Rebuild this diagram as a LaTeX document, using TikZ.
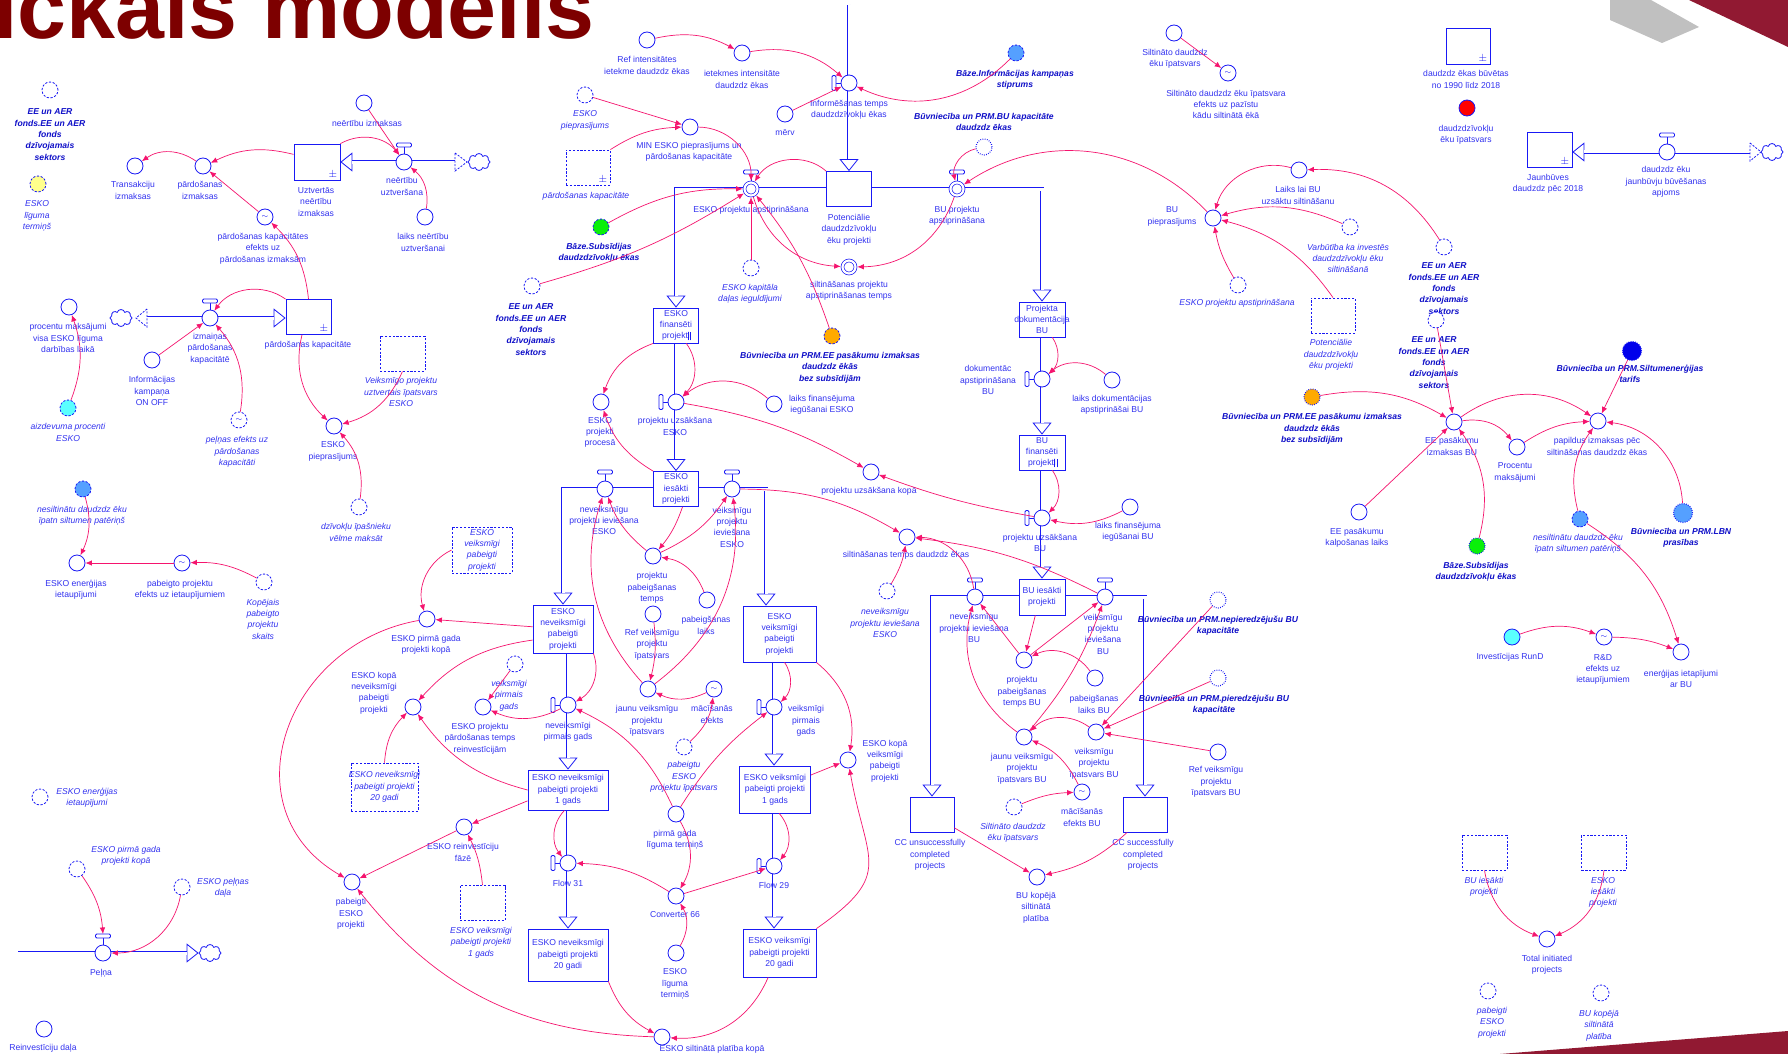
\documentclass[tikz,border=0pt]{standalone}
\usepackage{fontspec}
\setmainfont{Liberation Sans}
\usetikzlibrary{arrows.meta,shapes.symbols,calc}
\pgfdeclarelayer{bg}
\pgfdeclarelayer{pipes}
\pgfsetlayers{bg,pipes,main}

\definecolor{nodeblue}{RGB}{25,25,245}
\definecolor{txtblue}{RGB}{50,50,240}
\definecolor{boldblue}{RGB}{15,15,200}
\definecolor{pinkc}{RGB}{245,20,110}
\definecolor{titlered}{RGB}{125,0,0}
\definecolor{bandred}{RGB}{145,25,50}
\definecolor{bandgrey}{RGB}{192,192,192}
\definecolor{fillyellow}{RGB}{255,255,140}
\definecolor{fillgreen}{RGB}{10,240,10}
\definecolor{fillorange}{RGB}{255,170,0}
\definecolor{filllblue}{RGB}{85,160,255}
\definecolor{fillcyan}{RGB}{90,255,255}
\definecolor{fillred}{RGB}{255,0,0}
\definecolor{filldblue}{RGB}{0,0,235}

% valve handles
\newcommand\hTop[1]{%
  \draw[vhandle] ($(#1.center)+(0,8)$) -- ($(#1.center)+(0,15)$);
  \draw[vhandle,fill=white,rounded corners=1.2pt] ($(#1.center)+(-7.5,15)$) rectangle ($(#1.center)+(7.5,19)$);
  \coordinate (#1-h) at ($(#1.center)+(0,19)$);}
\newcommand\hLeft[1]{%
  \draw[vhandle] ($(#1.center)+(-8,0)$) -- ($(#1.center)+(-13,0)$);
  \draw[vhandle,fill=white,rounded corners=1.2pt] ($(#1.center)+(-17,-7.5)$) rectangle ($(#1.center)+(-13,7.5)$);}
% double-line flow pipe with an open arrow head at its end
\newcommand\FlowPipe[1]{\draw[pipecore] #1; \draw[pipedbl] #1;}

\begin{document}
\begin{tikzpicture}[x=1pt,y=1pt,
  aux/.style={circle, draw=nodeblue, line width=0.8pt, fill=white, minimum size=16pt, inner sep=0pt},
  ghost/.style={aux, dash pattern=on 2.2pt off 1.6pt},
  ghostdot/.style={aux, line width=1.1pt, dash pattern=on 0.8pt off 1.4pt},
  sine/.style={aux, font=\fontsize{8}{8}\selectfont, text=nodeblue},
  valve/.style={aux},
  dvalve/.style={circle, draw=nodeblue, line width=0.7pt, double=white, double distance=2.2pt, fill=white, minimum size=13pt, inner sep=0pt, outer sep=1.8pt},
  pmk/.style={anchor=south east, inner sep=0pt, text=nodeblue, font=\fontsize{11}{11}\selectfont, xshift=-3pt, yshift=2pt},
  cboxe/.style={rectangle, draw=nodeblue, line width=0.8pt, fill=white, inner sep=0pt, minimum width=45pt, minimum height=35pt},
  stock/.style={cboxe, label={[pmk]south east:$\pm$}},
  ghostbox/.style={cboxe, dash pattern=on 2.2pt off 1.6pt},
  cloudn/.style={cloud, cloud puffs=8, aspect=1.25, draw=nodeblue, line width=0.8pt, fill=white, minimum width=22pt, minimum height=17pt, inner sep=0pt},
  lbl/.style={font=\fontsize{8.6}{11.3}\selectfont, text=txtblue, align=center, inner sep=0pt},
  ilbl/.style={lbl, font=\fontsize{8.6}{11.3}\selectfont\itshape},
  blbl/.style={lbl, font=\fontsize{8.6}{11.3}\selectfont\bfseries\itshape, text=boldblue},
  conn/.style={draw=pinkc, line width=0.7pt, -{Latex[length=6.5pt,width=5.5pt]}},
  pipecore/.style={draw=nodeblue, line width=0.8pt, -{Triangle[fill=white, length=12pt, width=19pt, line width=0.8pt]}},
  pipedbl/.style={draw=nodeblue, line width=0.8pt, double=white, double distance=3pt, shorten >=12pt},
  vhandle/.style={draw=nodeblue, line width=0.8pt},
  chev/.style={draw=nodeblue, line width=0.8pt, dash pattern=on 2pt off 1.5pt, fill=white}
]
\useasboundingbox (0,0) rectangle (1788,-1054);
\begin{pgfonlayer}{bg}
  \fill[white] (0,0) rectangle (1788,-1054);
\end{pgfonlayer}
\clip (0,0) rectangle (1788,-1054);

% ---------- title and corner bands
\node[anchor=base west, font=\fontsize{88}{88}\selectfont\bfseries, text=titlered, inner sep=0pt] (ttl) at (-7,-39) {ickais modelis};
\fill[bandgrey] (1610,0) -- (1651,0) -- (1699,-27) -- (1662,-43) -- (1610,-20) -- cycle;
\fill[bandred] (1689,0) -- (1788,0) -- (1788,-47) -- cycle;
\fill[bandred] (1500,-1054) -- (1788,-1031) -- (1788,-1054) -- cycle;

% ---------- upper left: sales costs
\node[ghost] (eeA) at (50,-90) {};
\node[blbl] (eeAl) at (50,-134.5) {EE un AER\\fonds.EE un AER\\fonds\\dzīvojamais\\sektors};
\node[ghost, fill=fillyellow] (ligY) at (38,-184) {};
\node[ilbl] (ligYl) at (37,-216) {ESKO\\līguma\\termiņš};
\node[aux] (trans) at (135,-166) {};
\node[lbl] (transl) at (133,-190.5) {Transakciju\\izmaksas};
\node[aux] (pizm) at (203,-166) {};
\node[lbl] (pizml) at (200,-190.5) {pārdošanas\\izmaksas};
\node[stock, minimum width=46pt, minimum height=36pt] (uztv) at (317,-162) {};
\node[lbl] (uztvl) at (316,-202) {Uztvertās\\neērtību\\izmaksas};
\node[valve] (nuzt) at (404,-162) {};
\node[lbl] (nuztl) at (402,-186.5) {neērtību\\uztveršana};
\node[cloudn] (cl1) at (479,-162) {};
\coordinate (ch1) at (455,-162);
\node[aux] (nizm) at (364,-103) {};
\node[lbl] (nizml) at (367,-123) {neērtību izmaksas};
\node[aux] (lnu) at (425,-217) {};
\node[lbl] (lnul) at (423,-242.5) {laiks neērtību\\uztveršanai};
\node[sine] (pke) at (265,-217) {$\sim$};
\node[lbl] (pkel) at (263,-248.5) {pārdošanas kapacitātes\\efekts uz\\pārdošanas izmaksām};

\node[ghost] (epg) at (585,-95) {};
\node[ilbl] (epgl) at (585,-120.5) {ESKO\\pieprasījums};
\node[ghostbox, minimum width=44pt, label={[pmk]south east:$\pm$}] (pkg) at (588,-167.5) {};
\node[ilbl] (pkgl) at (586,-196) {pārdošanas kapacitāte};
\node[ghost, fill=fillgreen] (bzs) at (601,-227) {};
\node[blbl] (bzsl) at (599,-252.5) {Bāze.Subsīdijas\\daudzdzīvokļu ēkas};

% ---------- information campaign and approval
\node[aux] (refi) at (647,-40) {};
\node[lbl] (refil) at (647,-65.5) {Ref intensitātes\\ietekme daudzdz ēkas};
\node[aux] (ieti) at (742,-53) {};
\node[lbl] (ietil) at (742,-79.5) {ietekmes intensitāte\\daudzdz ēkas};
\node[valve] (infv) at (849,-83) {};
\node[lbl] (infvl) at (849,-109.5) {Informēšanas temps\\daudzdzīvokļu ēkas};
\coordinate (ptop) at (849,-5);
\node[aux] (merv) at (785,-114) {};
\node[lbl] (mervl) at (785,-133) {mērv};
\node[ghost, fill=filllblue] (bzi) at (1016,-53) {};
\node[blbl] (bzil) at (1015,-79.5) {Bāze.Informācijas kampaņas\\stiprums};
\node[aux] (mine) at (690,-127) {};
\node[lbl] (minel) at (689,-152) {MIN ESKO pieprasījums un\\pārdošanas kapacitāte};
\node[cboxe] (potenc) at (849,-189) {};
\node[lbl] (potencl) at (849,-229.5) {Potenciālie\\daudzdzīvokļu\\ēku projekti};
\node[dvalve] (eap) at (751,-189) {};
\node[lbl] (eapl) at (751,-210) {ESKO projektu apstiprināšana};
\node[dvalve] (bap) at (957,-189) {};
\node[lbl] (bapl) at (957,-215.5) {BU projektu\\apstiprināšana};
\node[ghostdot] (bkg) at (984,-147) {};
\node[blbl] (bkgl) at (984,-122) {Būvniecība un PRM.BU kapacitāte\\daudzdz ēkas};
\node[dvalve] (sapt) at (849,-267) {};
\node[lbl] (saptl) at (849,-291) {siltināšanas projektu\\apstiprināšanas temps};
\node[ghost] (ekg) at (751,-268) {};
\node[ilbl] (ekgl) at (750,-293.5) {ESKO kapitāla\\daļas ieguldījumi};
\node[ghost, fill=fillorange] (or1) at (832,-336) {};
\node[blbl] (or1l) at (830,-367.5) {Būvniecība un PRM.EE pasākumu izmaksas\\daudzdz ēkās\\bez subsīdijām};
\node[ghost] (eeC) at (532,-286) {};
\node[blbl] (eeCl) at (531,-329.5) {EE un AER\\fonds.EE un AER\\fonds\\dzīvojamais\\sektors};

% ---------- upper right
\node[aux] (sdi) at (1174,-33) {};
\node[lbl] (sdil) at (1175,-58.5) {Siltināto daudzdz\\ēku īpatsvars};
\node[sine] (sde) at (1228,-73) {$\sim$};
\node[lbl] (sdel) at (1226,-104.5) {Siltināto daudzdz ēku īpatsvara\\efekts uz pazīstu\\kādu siltinātā ēkā};
\node[stock, minimum width=44pt, minimum height=36pt] (dbuv) at (1468,-46) {};
\node[lbl] (dbuvl) at (1466,-79.5) {daudzdz ēkas būvētas\\no 1990 līdz 2018};
\node[aux, fill=fillred] (dip) at (1467,-108) {};
\node[lbl] (dipl) at (1466,-134.5) {daudzdzīvokļu\\ēku īpatsvars};
\node[stock] (jaunb) at (1549.5,-149.5) {};
\node[lbl] (jaunbl) at (1548,-183.5) {Jaunbūves\\daudzdz pēc 2018};
\node[valve] (jbv) at (1667,-152) {};
\node[lbl] (jbvl) at (1666,-182) {daudzdz ēku\\jaunbūvju būvēšanas\\apjoms};
\node[cloudn] (cl2) at (1772,-152) {};
\coordinate (ch2) at (1750,-152);

\node[aux] (llb) at (1299,-170) {};
\node[lbl] (llbl) at (1298,-195.5) {Laiks lai BU\\uzsāktu siltināšanu};
\node[aux] (bup) at (1213,-218) {};
\node[lbl] (bupl) at (1172,-216.5) {BU\\pieprasījums};
\node[ghost] (vkg) at (1350,-227) {};
\node[ilbl] (vkgl) at (1348,-258.5) {Varbūtība ka investēs\\daudzdzīvokļu ēku\\siltināšanā};
\node[ghost] (eeB1) at (1444,-247) {};
\node[blbl] (eeB1l) at (1444,-288.5) {EE un AER\\fonds.EE un AER\\fonds\\dzīvojamais\\sektors};
\node[ghost] (eag) at (1238,-285) {};
\node[ilbl] (eagl) at (1237,-303) {ESKO projektu apstiprināšana};
\node[ghostbox, minimum width=44pt] (pog) at (1333,-315.5) {};
\node[ilbl] (pogl) at (1331,-355) {Potenciālie\\daudzdzīvokļu\\ēku projekti};
\node[ghost] (eeB2) at (1436,-320) {};
\node[blbl] (eeB2l) at (1434,-362.5) {EE un AER\\fonds.EE un AER\\fonds\\dzīvojamais\\sektors};
\node[aux] (eep) at (1454,-422) {};
\node[lbl] (eepl) at (1452,-446.5) {EE pasākumu\\izmaksas BU};
\node[ghostdot, fill=fillorange] (or2) at (1312,-397) {};
\node[blbl] (or2l) at (1312,-429) {Būvniecība un PRM.EE pasākumu izmaksas\\daudzdz ēkās\\bez subsīdijām};
\node[aux] (procm) at (1517,-447) {};
\node[lbl] (procml) at (1515,-472.5) {Procentu\\maksājumi};
\node[aux] (pap) at (1598,-421) {};
\node[lbl] (papl) at (1597,-446.5) {papildus izmaksas pēc\\siltināšanas daudzdz ēkas};
\node[ghostdot, fill=filldblue, minimum size=19pt] (star) at (1632,-351) {};
\node[blbl] (starl) at (1630,-373.5) {Būvniecība un PRM.Siltumenerģijas\\tarifs};
\node[aux] (kalp) at (1359,-512) {};
\node[lbl] (kalpl) at (1357,-537.5) {EE pasākumu\\kalpošanas laiks};
\node[ghostdot, fill=fillgreen] (bzs2) at (1477,-546) {};
\node[blbl] (bzs2l) at (1476,-571.5) {Bāze.Subsīdijas\\daudzdzīvokļu ēkas};
\node[ghost, fill=filllblue] (ns2) at (1580,-519) {};
\node[ilbl] (ns2l) at (1578,-544) {nesiltinātu daudzdz ēku\\īpatn siltumen patēriņš};
\node[ghostdot, fill=filllblue, minimum size=19pt] (lbn) at (1683,-513) {};
\node[blbl] (lbnl) at (1681,-537.5) {Būvniecība un PRM.LBN\\prasības};

% ---------- lower right
\node[aux, fill=fillcyan] (rund) at (1512,-637) {};
\node[lbl] (rundl) at (1510,-657) {Investīcijas RunD};
\node[sine] (rde) at (1604,-637) {$\sim$};
\node[lbl] (rdel) at (1603,-669.5) {R\&D\\efekts uz\\ietaupījumiem};
\node[aux] (ebu) at (1681,-652) {};
\node[lbl] (ebul) at (1681,-678.5) {enerģijas ietapījumi\\ar BU};
\node[ghostdot] (npg) at (1218,-600) {};
\node[blbl] (npgl) at (1218,-625.5) {Būvniecība un PRM.nepieredzējušu BU\\kapacitāte};
\node[ghostdot] (prg) at (1218,-678) {};
\node[blbl] (prgl) at (1214,-704.5) {Būvniecība un PRM.pieredzējušu BU\\kapacitāte};
\node[aux] (rbu) at (1218,-752) {};
\node[lbl] (rbul) at (1216,-782) {Ref veiksmīgu\\projektu\\īpatsvars BU};
\node[ghostbox] (big) at (1484.5,-852.5) {};
\node[ilbl] (bigl) at (1484,-887) {BU iesākti\\projekti};
\node[ghostbox] (eig) at (1604,-852.5) {};
\node[ilbl] (eigl) at (1603,-892.5) {ESKO\\iesākti\\projekti};
\node[aux] (toti) at (1547,-939) {};
\node[lbl] (totil) at (1547,-965) {Total initiated\\projects};
\node[ghost] (pbg) at (1488,-991) {};
\node[ilbl] (pbgl) at (1492,-1022.5) {pabeigti\\ESKO\\projekti};
\node[ghost] (bkopg) at (1601,-993) {};
\node[ilbl] (bkopgl) at (1599,-1025.5) {BU kopējā\\siltinātā\\platība};

% ---------- left middle: sales capacity
\node[aux] (pme) at (69,-307) {};
\node[lbl] (pmel) at (68,-338) {procentu maksājumi\\visa ESKO līguma\\darbības laikā};
\node[ghost, fill=fillcyan] (aiz) at (68,-408) {};
\node[ilbl] (aizl) at (68,-432.5) {aizdevuma procenti\\ESKO};
\node[cloudn] (cl3) at (121,-318) {};
\coordinate (ch3) at (147,-318);
\node[valve] (izv) at (210,-318) {};
\node[lbl] (izvl) at (210,-348.5) {izmaiņas\\pārdošanas\\kapacitātē};
\node[stock] (pkap) at (308.5,-317) {};
\node[lbl] (pkapl) at (308,-345) {pārdošanas kapacitāte};
\node[aux] (ikamp) at (152,-360) {};
\node[lbl] (ikampl) at (152,-391) {Informācijas\\kampaņa\\ON OFF};
\node[ghost, font=\fontsize{8}{8}\selectfont, text=nodeblue] (peg) at (239,-420) {$\sim$};
\node[ilbl] (pegl) at (237,-452) {peļņas efekts uz\\pārdošanas\\kapacitāti};
\node[aux] (epq) at (334,-426) {};
\node[lbl] (epql) at (333,-451.5) {ESKO\\pieprasījums};
\node[ghostbox] (vpg) at (402.5,-353.5) {};
\node[ilbl] (vpgl) at (401,-392) {Veiksmīgo projektu\\uztvertais īpatsvars\\ESKO};
\node[ghost] (dzg) at (359,-507) {};
\node[ilbl] (dzgl) at (356,-532.5) {dzīvokļu īpašnieku\\vēlme maksāt};
\node[ghost, fill=filllblue] (ns1) at (83,-489) {};
\node[ilbl] (ns1l) at (82,-515.5) {nesiltinātu daudzdz ēku\\īpatn siltumen patēriņš};
\node[aux] (eei) at (77,-563) {};
\node[lbl] (eeil) at (76,-589.5) {ESKO enerģijas\\ietaupījumi};
\node[sine] (ppe) at (182,-563) {$\sim$};
\node[lbl] (ppel) at (180,-589.5) {pabeigto projektu\\efekts uz ietaupījumiem};
\node[ghost] (kpg) at (264,-582) {};
\node[ilbl] (kpgl) at (263,-619) {Kopējais\\pabeigto\\projektu\\skaits};

% ---------- ESKO project chain
\node[cboxe] (efin) at (676,-325.5) {};
\node[lbl] (efint) at (efin) {ESKO\\finansēti\\projekti};
\node[aux] (epr) at (601,-402) {};
\node[lbl] (eprl) at (600,-432.5) {ESKO\\projekti\\procesā};
\node[valve] (uzv) at (676,-402) {};
\node[lbl] (uzvl) at (675,-426.5) {projektu uzsākšana\\ESKO};
\node[aux] (lfe) at (774,-404) {};
\node[lbl] (lfel) at (822,-405) {laiks finansējuma\\iegūšanai ESKO};
\node[aux] (uzk) at (871,-472) {};
\node[lbl] (uzkl) at (869,-491) {projektu uzsākšana kopā};
\node[cboxe] (eies) at (676,-489) {};
\node[lbl] (eiest) at (eies) {ESKO\\iesākti\\projekti};
\node[valve] (nvv) at (605,-489) {};
\node[lbl] (nvvl) at (604,-520.5) {neveiksmīgu\\projektu ieviešana\\ESKO};
\node[valve] (vkv) at (732,-489) {};
\node[lbl] (vkvl) at (732,-527) {veiksmīgu\\projektu\\ieviešana\\ESKO};
\coordinate (eR) at (766,-489);
\node[aux] (ptm) at (653,-556) {};
\node[lbl] (ptml) at (652,-588) {projektu\\pabeigšanas\\temps};
\node[aux] (pbl) at (707,-600) {};
\node[lbl] (pbll) at (706,-625.5) {pabeigšanas\\laiks};
\node[aux] (rvp) at (653,-614) {};
\node[lbl] (rvpl) at (652,-644.5) {Ref veiksmīgu\\projektu\\īpatsvars};
\node[aux] (jvp) at (648,-689) {};
\node[lbl] (jvpl) at (647,-721) {jaunu veiksmīgu\\projektu\\īpatsvars};
\node[sine] (mef) at (714,-689) {$\sim$};
\node[lbl] (mefl) at (712,-714.5) {mācīšanās\\efekts};
\node[ghost] (pbug) at (684,-747) {};
\node[ilbl] (pbugl) at (684,-777) {pabeigtu\\ESKO\\projektu īpatsvars};
\node[aux] (stm) at (907,-537) {};
\node[lbl] (stml) at (906,-555) {siltināšanas temps daudzdz ēkas};
\node[ghost] (nvg) at (887,-591) {};
\node[ilbl] (nvgl) at (885,-623) {neveiksmīgu\\projektu ieviešana\\ESKO};

\node[cboxe, minimum width=73pt, minimum height=56pt] (evk) at (779.5,-634) {};
\node[lbl] (evkt) at (evk) {ESKO\\veiksmīgi\\pabeigti\\projekti};
\node[cboxe, minimum width=60pt, minimum height=48pt] (env) at (563,-629) {};
\node[lbl] (envt) at (env) {ESKO\\neveiksmīgi\\pabeigti\\projekti};
\node[valve] (nvp) at (568,-705) {};
\node[lbl] (nvpl) at (568,-731.5) {neveiksmīgi\\pirmais gads};
\node[cboxe, minimum width=80pt, minimum height=40pt] (nv1) at (568,-790) {};
\node[lbl] (nv1t) at (nv1) {ESKO neveiksmīgi\\pabeigti projekti\\1 gads};
\node[valve] (f31) at (568,-863) {};
\node[lbl] (f31l) at (568,-883) {Flow 31};
\node[cboxe, minimum width=80pt, minimum height=52pt] (nv20) at (568,-955) {};
\node[lbl] (nv20t) at (nv20) {ESKO neveiksmīgi\\pabeigti projekti\\20 gadi};
\node[valve] (vkp) at (774,-707) {};
\node[lbl] (vkpl) at (806,-721) {veiksmīgi\\pirmais\\gads};
\node[cboxe, minimum width=71pt, minimum height=47pt] (vk1) at (775,-789.5) {};
\node[lbl] (vk1t) at (vk1) {ESKO veiksmīgi\\pabeigti projekti\\1 gads};
\node[valve] (f29) at (774,-866) {};
\node[lbl] (f29l) at (774,-885) {Flow 29};
\node[cboxe, minimum width=73pt, minimum height=48pt] (vk20) at (779.5,-953) {};
\node[lbl] (vk20t) at (vk20) {ESKO veiksmīgi\\pabeigti projekti\\20 gadi};
\node[aux] (pgl) at (676,-814) {};
\node[lbl] (pgll) at (675,-840) {pirmā gada\\līguma termiņš};
\node[aux] (c66) at (676,-896) {};
\node[lbl] (c66l) at (675,-915) {Converter 66};
\node[aux] (elt) at (676,-953) {};
\node[lbl] (eltl) at (675,-984) {ESKO\\līguma\\termiņš};
\node[aux] (esp) at (662,-1037) {};
\node[lbl] (espl) at (712,-1049) {ESKO siltinātā platība kopā};
\node[aux] (ekv) at (848,-760) {};
\node[lbl] (ekvl) at (885,-761) {ESKO kopā\\veiksmīgi\\pabeigti\\projekti};
\node[ghostbox, minimum width=60pt, minimum height=46pt] (evg) at (482,-550) {};
\node[ilbl] (evgt) at (evg) {ESKO\\veiksmīgi\\pabeigti\\projekti};
\node[aux] (pgk) at (427,-619) {};
\node[lbl] (pgkl) at (426,-644.5) {ESKO pirmā gada\\projekti kopā};
\node[aux] (ekn) at (413,-707) {};
\node[lbl] (eknl) at (374,-693) {ESKO kopā\\neveiksmīgi\\pabeigti\\projekti};
\node[ghost] (vpgg) at (515,-664) {};
\node[ilbl] (vpggl) at (509,-695.5) {veiksmīgi\\pirmais\\gads};
\node[aux] (ept) at (483,-707) {};
\node[lbl] (eptl) at (480,-738.5) {ESKO projektu\\pārdošanas temps\\reinvestīcijām};
\node[ghostbox, minimum width=67pt, minimum height=48pt] (n20g) at (384.5,-787) {};
\node[ilbl] (n20gt) at (n20g) {ESKO neveiksmīgi\\pabeigti projekti\\20 gadi};
\node[aux] (rvf) at (464,-827) {};
\node[lbl] (rvfl) at (463,-852.5) {ESKO reinvestīciju\\fāzē};
\node[ghostbox] (v1g) at (482.5,-903) {};
\node[ilbl] (v1gl) at (481,-942.5) {ESKO veiksmīgi\\pabeigti projekti\\1 gads};
\node[aux] (pep) at (352,-882) {};
\node[lbl] (pepl) at (351,-914) {pabeigti\\ESKO\\projekti};

% ---------- lower left: profit
\node[ghost] (eeg) at (40,-797) {};
\node[ilbl] (eegl) at (87,-797.5) {ESKO enerģijas\\ietaupījumi};
\node[ghost] (pkgg) at (77,-869) {};
\node[ilbl] (pkggl) at (126,-856) {ESKO pirmā gada\\projekti kopā};
\node[ghost] (epd) at (182,-887) {};
\node[ilbl] (epdl) at (223,-887.5) {ESKO peļņas\\daļa};
\node[valve] (pel) at (103,-953) {};
\node[lbl] (pell) at (101,-973) {Peļņa};
\node[cloudn] (cl4) at (210,-953) {};
\coordinate (p0) at (18,-953);
\node[aux] (rd) at (44,-1029) {};
\node[lbl] (rdl) at (43,-1048) {Reinvestīciju daļa};

% ---------- BU project chain
\node[cboxe, minimum width=46pt] (pdok) at (1042,-319.5) {};
\node[lbl] (pdokt) at (pdok) {Projekta\\dokumentācija\\BU};
\node[valve] (dkv) at (1042,-379) {};
\node[lbl] (dkvl) at (988,-380) {dokumentāc\\apstiprināšana\\BU};
\node[aux] (ldk) at (1112,-380) {};
\node[lbl] (ldkl) at (1112,-405) {laiks dokumentācijas\\apstiprināšai BU};
\node[cboxe, minimum width=46pt] (bfin) at (1042,-452.5) {};
\node[lbl] (bfint) at (bfin) {BU\\finansēti\\projekti};
\node[valve] (ubv) at (1042,-518) {};
\node[lbl] (ubvl) at (1040,-543) {projektu uzsākšana\\BU};
\node[aux] (lfb) at (1130,-507) {};
\node[lbl] (lfbl) at (1128,-531.5) {laiks finansējuma\\iegūšanai BU};
\node[cboxe, minimum width=46pt, minimum height=36pt] (bies) at (1042,-597) {};
\node[lbl] (biest) at (bies) {BU iesākti\\projekti};
\node[valve] (nbv) at (975,-597) {};
\node[lbl] (nbvl) at (974,-628) {neveiksmīgu\\projektu ieviešana\\BU};
\node[valve] (vbv) at (1105,-597) {};
\node[lbl] (vbvl) at (1103,-634) {veiksmīgu\\projektu\\ieviešana\\BU};
\node[aux] (ptb) at (1024,-660) {};
\node[lbl] (ptbl) at (1022,-692) {projektu\\pabeigšanas\\temps BU};
\node[aux] (plb) at (1095,-678) {};
\node[lbl] (plbl) at (1094,-704.5) {pabeigšanas\\laiks BU};
\node[aux] (jvb) at (1024,-737) {};
\node[lbl] (jvbl) at (1022,-768.5) {jaunu veiksmīgu\\projektu\\īpatsvars BU};
\node[aux] (vpb) at (1096,-732) {};
\node[lbl] (vpbl) at (1094,-763.5) {veiksmīgu\\projektu\\īpatsvars BU};
\node[sine] (mbu) at (1082,-792) {$\sim$};
\node[lbl] (mbul) at (1082,-817.5) {mācīšanās\\efekts BU};
\node[ghost] (sgh) at (1014,-807) {};
\node[ilbl] (sghl) at (1013,-832.5) {Siltināto daudzdz\\ēku īpatsvars};
\node[cboxe, minimum width=44pt] (ccu) at (932,-814.5) {};
\node[lbl] (ccul) at (930,-855) {CC unsuccessfully\\completed\\projects};
\node[cboxe, minimum width=44pt] (ccs) at (1145,-814.5) {};
\node[lbl] (ccsl) at (1143,-855) {CC successfully\\completed\\projects};
\node[aux] (bkp) at (1037,-877) {};
\node[lbl] (bkpl) at (1036,-907.5) {BU kopējā\\siltinātā\\platība};

% small conveyor marks
\draw[nodeblue, line width=0.6pt] ($(efin.south east)+(-11,3)$) -- ++(0,8) ($(efin.south east)+(-8.5,3)$) -- ++(0,8);
\draw[nodeblue, line width=0.6pt] ($(bfin.south east)+(-11,3)$) -- ++(0,8) ($(bfin.south east)+(-8.5,3)$) -- ++(0,8);

% ---------- flow pipes (under the valves)
\begin{pgfonlayer}{pipes}
\FlowPipe{(ch1) -- (uztv.east)}
\FlowPipe{(ch3) -- (ch3 -| pkap.west)}
\FlowPipe{(ptop) -- (potenc.north)}
\FlowPipe{(potenc.west) -| (efin.north)}
\FlowPipe{(potenc.east) -| (pdok.north)}
\FlowPipe{(efin.south) -- (eies.north)}
\FlowPipe{(eies.west) -| (env.north)}
\FlowPipe{(eies.east) -- (eR) -- (eR |- evk.north)}
\FlowPipe{(env.south -| nvp) -- (nv1.north -| nvp)}
\FlowPipe{(nv1.south -| f31) -- (nv20.north -| f31)}
\FlowPipe{(evk.south -| vkp) -- (vk1.north -| vkp)}
\FlowPipe{(vk1.south -| f29) -- (vk20.north -| f29)}
\FlowPipe{(pdok.south) -- (bfin.north)}
\FlowPipe{(bfin.south) -- (bies.north)}
\FlowPipe{(bies.west) -| (ccu.north)}
\FlowPipe{(bies.east) -| (ccs.north)}
\FlowPipe{(ch2) -- (ch2 -| jaunb.east)}
\FlowPipe{(p0) -- (cl4.west)}
\end{pgfonlayer}

% cloud-side markers
\draw[chev] (ch1) ++(0,9) -- ++(12,-9) -- ++(-12,-9) -- cycle;
\draw[chev] (ch3) ++(0,9) -- ++(-11,-9) -- ++(11,-9) -- cycle;
\draw[chev] (ch2) ++(0,9) -- ++(11,-9) -- ++(-11,-9) -- cycle;

% valve handles
\hTop{nuzt} \hTop{izv} \hTop{eap} \hTop{bap} \hTop{jbv} \hTop{nvv} \hTop{vkv} \hTop{nbv} \hTop{vbv} \hTop{pel}
\hLeft{infv} \hLeft{uzv} \hLeft{dkv} \hLeft{ubv} \hLeft{nvp} \hLeft{f31} \hLeft{vkp} \hLeft{f29}

% ---------- connectors
\draw[conn] (pizm) to[bend right=35] (trans);
\draw[conn] (uztv) to[bend right=20] (pizm);
\draw[conn] (nizm) -- (nuzt);
\draw[conn] (uztv.north east) to[bend left=40] (nuzt);
\draw[conn] (lnu) to[bend right=30] (nuzt);
\draw[conn] (pke) -- (pizm);
\draw[conn] (pkap.north) to[bend right=20] (pke);
\draw[conn] (epg) -- (mine);
\draw[conn] (pkg.north east) to[bend left=15] (mine);
\draw[conn] (mine) to[bend left=45] (eap);
\draw[conn] (potenc.north west) to[bend right=50] (eap);
\draw[conn] (bzs) to[bend left=15] (eap);
\draw[conn] (eeC) to[bend right=8] (eap);
\draw[conn] (ekg) -- (eap);
\draw[conn] (or1) to[bend right=10] (eap);
\draw[conn] (eap) to[bend right=35] (sapt);
\draw[conn] (bap) to[bend left=35] (sapt);
\draw[conn] (bkg) to[bend right=45] (bap);
\draw[conn] (bup) to[bend right=40] (bap);
\draw[conn] (refi) to[bend left=20] (ieti);
\draw[conn] (ieti) to[bend left=25] (infv);
\draw[conn] (merv) -- (infv);
\draw[conn] (bzi) to[bend left=35] (infv);
\draw[conn] (sdi) -- (sde);
\draw[conn] (llb) to[bend right=45] (bup);
\draw[conn] (eeB1) to[bend right=30] (llb);
\draw[conn] (vkg) to[bend right=20] (bup);
\draw[conn] (eag) to[bend left=10] (bup);
\draw[conn] (pog.north) to[bend right=20] (bup);
\draw[conn] (eeB2) -- (eep);
\draw[conn] (or2) to[bend left=20] (eep);
\draw[conn] (eep) to[bend left=30] (procm);
\draw[conn] (eep) to[bend left=35] (pap);
\draw[conn] (procm) to[bend left=15] (pap);
\draw[conn] (star) -- (pap);
\draw[conn] (kalp) -- (eep);
\draw[conn] (bzs2) to[bend right=25] (eep);
\draw[conn] (ns2) to[bend left=25] (pap);
\draw[conn] (lbn) to[bend right=40] (pap);
\draw[conn] (ns2) to[bend left=20] (ebu);
\draw[conn] (rund) to[bend left=20] (rde);
\draw[conn] (rde) to[bend left=10] (ebu);
\draw[conn] (npg) -- (vpb);
\draw[conn] (prg) -- (vpb);
\draw[conn] (rbu) -- (vpb);
\draw[conn] (big.south) to[bend right=30] (toti);
\draw[conn] (eig.south) to[bend left=30] (toti);
\draw[conn] (aiz) to[bend right=20] (pme);
\draw[conn] (ikamp) -- (izv);
\draw[conn] (peg) to[bend right=25] (izv);
\draw[conn] (pkap.north west) to[bend right=45] (izv);
\draw[conn] (pkap.250) to[bend right=30] (epq);
\draw[conn] (vpg.south) to[bend left=25] (epq);
\draw[conn] (dzg) to[bend right=25] (epq);
\draw[conn] (ns1) to[bend left=20] (eei);
\draw[conn] (ppe) -- (eei);
\draw[conn] (kpg) to[bend right=15] (ppe);
\draw[conn] (efin.south west) to[bend right=25] (epr);
\draw[conn] (eies.north west) to[bend left=20] (epr);
\draw[conn] (efin.-60) to[bend left=40] (uzv);
\draw[conn] (lfe) to[bend right=40] (uzv);
\draw[conn] (uzv) to[bend left=10] (uzk);
\draw[conn] (ubv) to[bend left=5] (uzk);
\draw[conn] (eies.-70) to[bend left=10] (ptm);
\draw[conn] (ptm) to[bend left=15] (nvv);
\draw[conn] (ptm) to[bend right=15] (vkv);
\draw[conn] (jvp) to[bend left=30] (nvv);
\draw[conn] (jvp) to[bend right=30] (vkv);
\draw[conn] (pbl) to[bend right=30] (ptm);
\draw[conn] (rvp) to[bend left=10] (jvp);
\draw[conn] (mef) to[bend left=25] (jvp);
\draw[conn] (pbug) to[bend right=20] (mef);
\draw[conn] (vkv) to[bend left=15] (stm);
\draw[conn] (nbv) to[bend right=40] (stm);
\draw[conn] (vbv) to[bend right=10] (stm);
\draw[conn] (nvg) to[bend right=10] (stm);
\draw[conn] (env) -- (pgk);
\draw[conn] (evg.west) to[bend right=40] (pgk);
\draw[conn] (env.200) to[bend right=20] (ekn);
\draw[conn] (vpgg) -- (ept);
\draw[conn] (env.south east) to[bend left=40] (nvp);
\draw[conn] (nvp) to[bend left=25] (ept);
\draw[conn] (pgl) to[bend right=20] (nvp);
\draw[conn] (pgl) to[bend left=10] (vkp);
\draw[conn] (n20g.north) to[bend left=20] (ekn);
\draw[conn] (nv1.west) to[bend left=20] (ekn);
\draw[conn] (pgk) to[out=190,in=150,looseness=1.3] (pep);
\draw[conn] (rvf) -- (pep);
\draw[conn] (nv1.195) -- (rvf);
\draw[conn] (v1g.north) to[bend right=10] (rvf);
\draw[conn] (nv1.-100) to[bend right=40] (f31);
\draw[conn] (c66) to[bend right=15] (f31);
\draw[conn] (c66) -- (f29);
\draw[conn] (pgl) to[bend left=30] (c66);
\draw[conn] (elt) to[bend right=30] (c66);
\draw[conn] (vk1.-80) to[bend left=40] (f29);
\draw[conn] (evk.-80) to[bend left=40] (vkp);
\draw[conn] (evk.south east) to[bend left=30] (ekv);
\draw[conn] (vk1) -- (ekv);
\draw[conn] (vk20.north east) to[out=35,in=-80,looseness=1.5] (ekv);
\draw[conn] (vk20.-115) to[bend left=35] (esp);
\draw[conn] (nv20.south east) to[bend right=20] (esp);
\draw[conn] (esp) to[bend left=25] (pep);
\draw[conn] (ccu) -- (bkp);
\draw[conn] (ccs) to[bend left=15] (bkp);
\draw[conn] (sgh) to[bend left=10] (mbu);
\draw[conn] (mbu) to[bend right=20] (jvb);
\draw[conn] (vpb) to[bend right=40] (jvb);
\draw[conn] (plb) to[bend right=40] (ptb);
\draw[conn] (bies.-110) -- (ptb);
\draw[conn] (ptb) -- (nbv);
\draw[conn] (ptb) -- (vbv);
\draw[conn] (jvb) to[bend left=35] (nbv);
\draw[conn] (jvb) to[bend right=10] (vbv);
\draw[conn] (pdok.-60) to[bend left=40] (dkv);
\draw[conn] (ldk) to[bend right=40] (dkv);
\draw[conn] (bfin.-60) to[bend left=40] (ubv);
\draw[conn] (lfb) to[bend left=20] (ubv);
\draw[conn] (pkgg) to[bend left=15] (pel-h);
\draw[conn] (epd) to[bend left=40] (pel);
\end{tikzpicture}
\end{document}
